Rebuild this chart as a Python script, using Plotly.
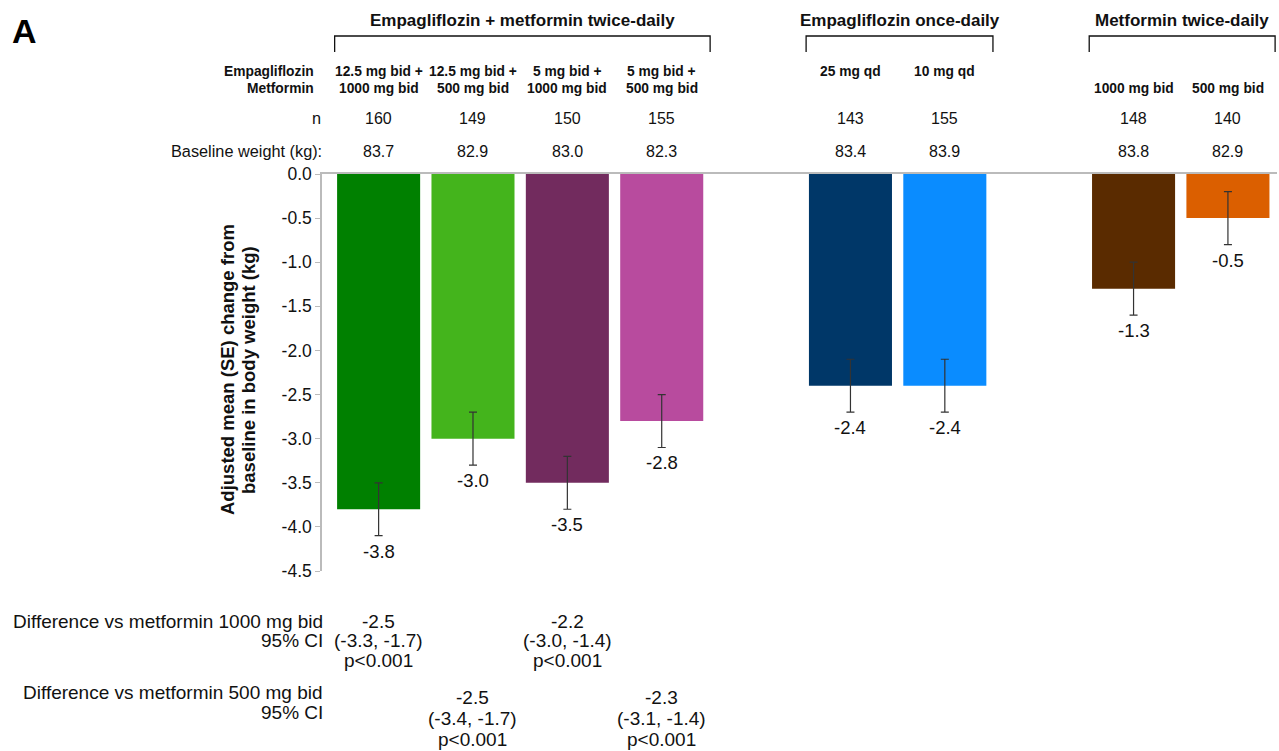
import plotly.graph_objects as go

# Treatment arms and results
positions = [0, 1, 2, 3, 5, 6, 8, 9]
empa_dose = ["12.5 mg bid +", "12.5 mg bid +", "5 mg bid +", "5 mg bid +",
             "25 mg qd", "10 mg qd", "", ""]
met_dose = ["1000 mg bid", "500 mg bid", "1000 mg bid", "500 mg bid",
            "", "", "1000 mg bid", "500 mg bid"]
n_patients = [160, 149, 150, 155, 143, 155, 148, 140]
baseline_weight = ["83.7", "82.9", "83.0", "82.3", "83.4", "83.9", "83.8", "82.9"]
mean_change = [-3.8, -3.0, -3.5, -2.8, -2.4, -2.4, -1.3, -0.5]
se = [0.3, 0.3, 0.3, 0.3, 0.3, 0.3, 0.3, 0.3]
colors = ["#008000", "#44B41C", "#722B5E", "#B84B9E",
          "#003768", "#0A8CFF", "#5A2B00", "#DB5F00"]

groups = ["Empagliflozin + metformin twice-daily", "Empagliflozin once-daily",
          "Metformin twice-daily"]
group_span = [(-0.466, 3.513), (4.53, 6.51), (7.53, 9.5)]

diff_1000 = {0: ["-2.5", "(-3.3, -1.7)", "p<0.001"], 2: ["-2.2", "(-3.0, -1.4)", "p<0.001"]}
diff_500 = {1: ["-2.5", "(-3.4, -1.7)", "p<0.001"], 3: ["-2.3", "(-3.1, -1.4)", "p<0.001"]}

yticks = [0, -0.5, -1, -1.5, -2, -2.5, -3, -3.5, -4, -4.5]

FONT = "Liberation Sans, Arial, sans-serif"
INK = "#111111"

TOP, BOTTOM = 174, 571          # plot area rows in page pixels
PLOT_L, PLOT_R = 322, 1277      # plot area columns in page pixels


def py(pixel):
    """Page pixel row -> paper y coordinate."""
    return (BOTTOM - pixel) / (BOTTOM - TOP)


def px(pixel):
    """Page pixel column -> paper x coordinate."""
    return (pixel - PLOT_L) / (PLOT_R - PLOT_L)


def label(x, y, text, size, xref="x", yref="paper", xanchor="center", **kw):
    return dict(x=x, y=y, xref=xref, yref=yref, text=text, showarrow=False,
                xanchor=xanchor, yanchor=kw.pop("yanchor", "middle"),
                font=dict(size=size, color=INK, family=FONT), **kw)


fig = go.Figure()
fig.add_trace(go.Bar(
    x=positions, y=mean_change, width=0.88,
    marker=dict(color=colors, line=dict(width=0)),
    error_y=dict(type="data", array=se, symmetric=True,
                 color="#333333", thickness=1.2, width=4),
    hoverinfo="skip", showlegend=False,
))

ann = []
# value labels beneath the error bars
for x, v, s in zip(positions, mean_change, se):
    ann.append(label(x, v - s, f"{v:.1f}", 18.5, yref="y", yanchor="top", yshift=-3))

# column headers
SUB = 13.8
for x, e, m, n, b in zip(positions, empa_dose, met_dose, n_patients, baseline_weight):
    if e:
        ann.append(label(x, py(72), f"<b>{e}</b>", SUB))
    if m:
        ann.append(label(x, py(88), f"<b>{m}</b>", SUB))
    ann.append(label(x, py(118), str(n), 16))
    ann.append(label(x, py(151), b, 16))

# row labels
ann.append(label(px(316), py(72), "<b>Empagliflozin</b>", SUB, xref="paper", xanchor="right"))
ann.append(label(px(316), py(88), "<b>Metformin</b>", SUB, xref="paper", xanchor="right"))
ann.append(label(px(323), py(118), "n", 16.3, xref="paper", xanchor="right"))
ann.append(label(px(324), py(151), "Baseline weight (kg):", 16.3, xref="paper", xanchor="right"))

# group titles and brackets
shapes = []
for g, (x0, x1) in zip(groups, group_span):
    ann.append(label((x0 + x1) / 2, py(20), f"<b>{g}</b>", 17))
    shapes.append(dict(type="path", xref="x", yref="paper",
                       path=f"M {x0},{py(52)} L {x0},{py(36)} L {x1},{py(36)} L {x1},{py(52)}",
                       line=dict(color=INK, width=1.3)))

# treatment differences vs metformin arms
TBL = 19
ann.append(label(px(325), py(621), "Difference vs metformin 1000 mg bid", TBL,
                 xref="paper", xanchor="right"))
ann.append(label(px(325), py(640), "95% CI", TBL, xref="paper", xanchor="right"))
for i, lines in diff_1000.items():
    for t, ypix in zip(lines, (621, 640, 660)):
        ann.append(label(positions[i], py(ypix), t, TBL))

ann.append(label(px(325), py(692), "Difference vs metformin 500 mg bid", TBL,
                 xref="paper", xanchor="right"))
ann.append(label(px(325), py(712), "95% CI", TBL, xref="paper", xanchor="right"))
for i, lines in diff_500.items():
    for t, ypix in zip(lines, (697, 718, 739)):
        ann.append(label(positions[i], py(ypix), t, TBL))

# panel letter
ann.append(dict(x=px(10), y=py(31), xref="paper", yref="paper", text="<b>A</b>",
                xanchor="left", yanchor="middle", showarrow=False,
                font=dict(size=34, color="#000000", family=FONT)))

# y axis title, two lines
ann.append(label(px(227), py(370), "<b>Adjusted mean (SE) change from</b>", 18.5,
                 xref="paper", textangle=-90))
ann.append(label(px(248), py(370), "<b>baseline in body weight (kg)</b>", 18.5,
                 xref="paper", textangle=-90))

fig.update_layout(
    width=1279, height=751,
    margin=dict(l=PLOT_L, r=1279 - PLOT_R, t=TOP, b=751 - BOTTOM),
    plot_bgcolor="white", paper_bgcolor="white",
    annotations=ann, shapes=shapes,
    xaxis=dict(range=[-0.6, 9.52], side="top", showline=True, linecolor="#BBBBBB",
               linewidth=1.5, showticklabels=False, ticks="", showgrid=False,
               zeroline=False, fixedrange=True),
    yaxis=dict(range=[-4.5, 0], tickvals=yticks,
               ticktext=[f"{v:.1f}" for v in yticks],
               showline=True, linecolor="#BBBBBB", linewidth=1.5,
               ticks="outside", ticklen=5, tickcolor="#BBBBBB",
               tickfont=dict(size=17.5, color=INK, family=FONT),
               showgrid=False, zeroline=False),
    bargap=0.1,
)

fig.write_html("out.html")
